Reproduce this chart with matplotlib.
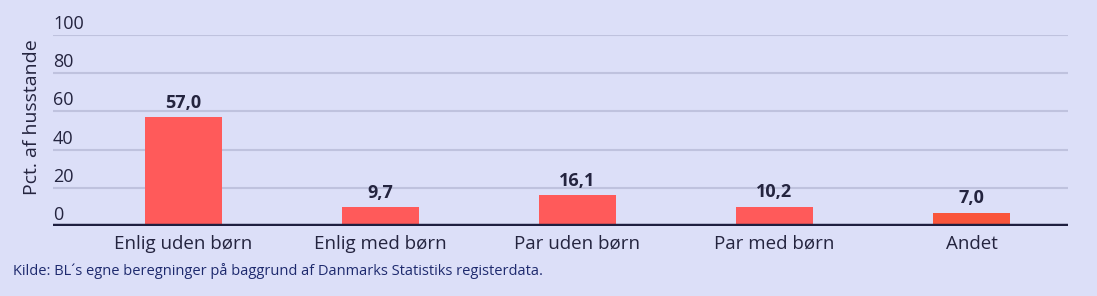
import numpy as np
import matplotlib
matplotlib.use("Agg")
import matplotlib.pyplot as plt
from matplotlib.transforms import offset_copy

categories = ["Enlig uden børn", "Enlig med børn", "Par uden børn", "Par med børn", "Andet"]
values = [57.0, 9.7, 16.1, 10.2, 7.0]
bar_colors = ["#FF5A5A", "#FF5A5A", "#FF5A5A", "#FF5A5A", "#F9553B"]
yticks = [0, 20, 40, 60, 80, 100]

BG = "#DCDFF8"
DARK = "#24243F"
plt.rcParams["font.family"] = ["Open Sans", "DejaVu Sans"]

fig = plt.figure(figsize=(10.97, 2.96), dpi=100, facecolor=BG)
ax = fig.add_axes([0.0483, 0.2365, 0.9253, 0.6453])
ax.set_facecolor(BG)

x = np.arange(len(categories))
ax.bar(x, values, width=0.39, color=bar_colors, zorder=3)
ax.set_xlim(-0.66, 4.49)
ax.set_ylim(0, 100)

for t in yticks[1:]:
    ax.axhline(t, color="#BFC2DE", lw=1.5, zorder=1)
ax.axhline(0, color="#1F1F40", lw=3.2, zorder=4)

tr = offset_copy(ax.get_yaxis_transform(), fig=fig, x=0, y=1.5, units="points")
for t in yticks:
    ax.text(0, t, str(t), transform=tr, ha="left", va="bottom",
            fontsize=13, color=DARK)

for xi, v in zip(x, values):
    ax.annotate(f"{v:.1f}".replace(".", ","), (xi, v), xytext=(0, 4),
                textcoords="offset points", ha="center", va="bottom",
                fontsize=13, fontweight="bold", color=DARK, zorder=5)

ax.set_xticks(x)
ax.set_xticklabels(categories, fontsize=13.5, color=DARK)
ax.tick_params(axis="x", length=0, pad=6.5)
ax.set_yticks([])
for s in ax.spines.values():
    s.set_visible(False)

fig.text(32 / 1097, 1 - 117 / 296, "Pct. af husstande", rotation=90,
         ha="center", va="center", fontsize=14, color=DARK)
fig.text(13 / 1097, 1 - 271 / 296,
         "Kilde: BL\u00b4s egne beregninger på baggrund af Danmarks Statistiks registerdata.",
         ha="left", va="center", fontsize=10.5, color="#1E2A6E")

fig.savefig("out.png", dpi=100, facecolor=BG)
